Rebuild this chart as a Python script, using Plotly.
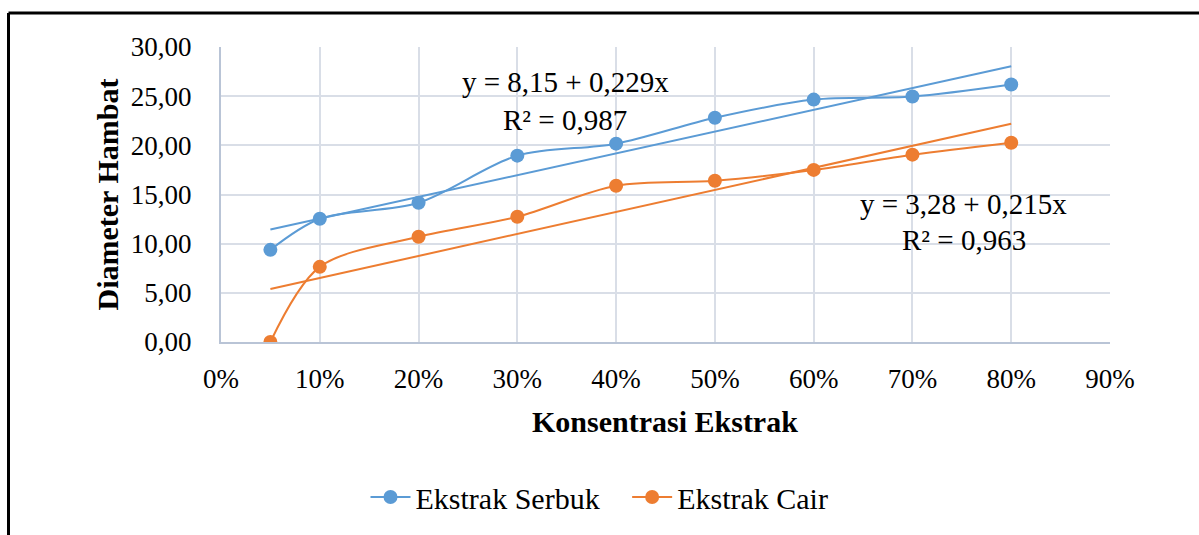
import numpy as np
import plotly.graph_objects as go

# ---- data ----
konsentrasi = [0.05, 0.10, 0.20, 0.30, 0.40, 0.50, 0.60, 0.70, 0.80]
ekstrak_serbuk = [9.37, 12.53, 14.16, 18.95, 20.17, 22.80, 24.65, 24.96, 26.18]
ekstrak_cair = [0.00, 7.64, 10.70, 12.73, 15.89, 16.40, 17.50, 19.05, 20.27]
x_ticks = [0, 0.1, 0.2, 0.3, 0.4, 0.5, 0.6, 0.7, 0.8, 0.9]
y_ticks = [0, 5, 10, 15, 20, 25, 30]
eq_serbuk = ["y = 8,15 + 0,229x", "R² = 0,987"]
eq_cair = ["y = 3,28 + 0,215x", "R² = 0,963"]

BLUE = "#5B9BD5"
ORANGE = "#ED7D31"
FONT = "Palatino Linotype, Book Antiqua, Palatino, Liberation Serif, serif"
FS_TICK = 27
FS_TEXT = 29
FS_LEG = 30
FS_TITLE = 30

x = np.array(konsentrasi)
fig = go.Figure()

for name, ys, col in [("Ekstrak Serbuk\u00a0\u00a0\u00a0", ekstrak_serbuk, BLUE),
                      ("Ekstrak Cair", ekstrak_cair, ORANGE)]:
    # linear trendline from data
    slope, intercept = np.polyfit(x, np.array(ys), 1)
    xt = [x.min(), x.max()]
    fig.add_trace(go.Scatter(x=xt, y=[intercept + slope * v for v in xt], mode="lines",
                             line=dict(color=col, width=2), showlegend=False, hoverinfo="skip"))
    fig.add_trace(go.Scatter(x=konsentrasi, y=ys, mode="lines+markers", name=name,
                             line=dict(color=col, width=2, shape="spline", smoothing=0.9),
                             marker=dict(color=col, size=14)))

fig.update_layout(
    width=1199, height=535,
    separators=",.",
    paper_bgcolor="white", plot_bgcolor="white",
    margin=dict(l=221, r=89, t=47, b=193),
    font=dict(family=FONT, size=FS_TICK, color="black"),
    showlegend=True,
    legend=dict(orientation="h", xref="container", yref="container", x=0.5, y=0.071,
                xanchor="center", yanchor="middle", font=dict(size=FS_LEG),
                itemwidth=40, tracegroupgap=0),
)
fig.update_xaxes(range=[0, 0.9], tickvals=x_ticks, tickformat=".0%", showgrid=True,
                 gridcolor="#D9DEE7", gridwidth=1.5, showline=True, linecolor="#B9C4D6",
                 linewidth=2, zeroline=False, ticks="", ticklabelstandoff=12,
                 tickfont=dict(size=FS_TICK))
fig.update_yaxes(range=[0, 30], tickvals=y_ticks, tickformat=".2f", showgrid=True,
                 gridcolor="#D9DEE7", gridwidth=1.5, showline=True, linecolor="#B9C4D6",
                 linewidth=2, zeroline=False, ticks="", ticklabelstandoff=22,
                 tickfont=dict(size=FS_TICK))

# axis titles
fig.add_annotation(text="<b>Konsentrasi Ekstrak</b>", xref="paper", yref="paper",
                   x=(665 - 221) / 889, y=(342 - 421) / 294.5, showarrow=False,
                   xanchor="center", yanchor="middle", font=dict(size=FS_TITLE))
fig.add_annotation(text="<b>Diameter Hambat</b>", xref="paper", yref="paper",
                   x=(107 - 221) / 889, y=0.5, showarrow=False, textangle=-90,
                   xanchor="center", yanchor="middle", font=dict(size=FS_TITLE))

# trendline equations
for lines, xa, ya in [(eq_serbuk, 0.3483, (26.49, 22.61)), (eq_cair, 0.7517, (14.06, 10.39))]:
    for t, yy in zip(lines, ya):
        fig.add_annotation(text=t, x=xa, y=yy, xref="x", yref="y", showarrow=False,
                           xanchor="center", yanchor="middle", font=dict(size=FS_TEXT))

# outer frame (top and left edges)
top_y = (342 - 13.5) / 294.5
left_x = (8.5 - 221) / 889
fig.add_shape(type="line", xref="paper", yref="paper", x0=left_x, x1=(1199 - 221) / 889 + 0.01,
              y0=top_y, y1=top_y, line=dict(color="black", width=3))
fig.add_shape(type="line", xref="paper", yref="paper", x0=left_x, x1=left_x,
              y0=top_y, y1=(342 - 540) / 294.5, line=dict(color="black", width=3))

fig.write_html("out.html", config={"displayModeBar": False},
               post_script="document.body.style.margin='0';")
